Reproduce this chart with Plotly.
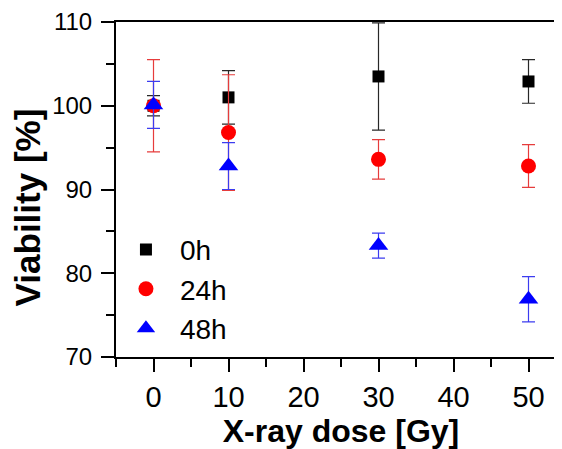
import plotly.graph_objects as go

dose = [0, 10, 30, 50]

v0h = [100.0, 101.0, 103.5, 102.9]
e0h = [1.2, 3.2, 6.4, 2.6]

v24h = [100.0, 96.8, 93.6, 92.8]
e24h = [5.5, 6.9, 2.35, 2.55]

v48h = [100.1, 92.8, 83.3, 76.9]
e48h = [2.8, 2.8, 1.5, 2.7]

series = [
    ("0h", v0h, e0h, "black", "rgb(40,40,40)", "square", 12),
    ("24h", v24h, e24h, "red", "rgb(230,60,60)", "circle", 15),
    ("48h", v48h, e48h, "blue", "rgb(60,60,240)", "triangle-up", 17),
]

FONT = "Arial, Liberation Sans, Helvetica, sans-serif"

fig = go.Figure()
for name, vals, errs, col, ecol, sym, sz in series:
    fig.add_trace(go.Scatter(
        x=dose, y=vals, mode="markers", name=name,
        marker=dict(symbol=sym, size=sz, color=col, line=dict(width=0)),
        error_y=dict(type="data", array=errs, visible=True, color=ecol,
                     thickness=1.2, width=6.5),
        cliponaxis=True,
    ))

axis_common = dict(
    showline=True, linecolor="black", linewidth=2, mirror=True,
    ticks="outside", tickcolor="black", tickwidth=2, ticklen=13,
    showgrid=False, zeroline=False, automargin=False,
    minor=dict(ticks="outside", ticklen=8, tickwidth=2, tickcolor="black"),
)

fig.update_xaxes(
    range=[-5, 55], tickvals=[0, 10, 20, 30, 40, 50],
    minor_dtick=5, minor_tick0=-5,
    tickfont=dict(family=FONT, size=29, color="black"),
    title=dict(text="<b>X-ray dose [Gy]</b>", font=dict(family=FONT, size=32, color="black"), standoff=8),
    **axis_common,
)
fig.update_yaxes(
    range=[70, 110], tickvals=[70, 80, 90, 100, 110],
    minor_dtick=5, minor_tick0=70,
    tickfont=dict(family=FONT, size=24, color="black"),
    ticklabelstandoff=4,
    **axis_common,
)

fig.add_annotation(
    text="<b>Viability [%]</b>", textangle=-90,
    xref="paper", yref="paper", x=-0.196, y=0.446,
    xanchor="center", yanchor="middle", showarrow=False,
    font=dict(family=FONT, size=35, color="black"),
)

fig.update_layout(
    width=562, height=449,
    margin=dict(l=108, r=4, t=14, b=100),
    paper_bgcolor="white", plot_bgcolor="white",
    showlegend=True,
    legend=dict(
        x=-0.009, y=0.395, xanchor="left", yanchor="top",
        font=dict(family=FONT, size=28, color="black"),
        bgcolor="rgba(0,0,0,0)", borderwidth=0,
        itemwidth=58,
    ),
)

fig.write_html("out.html")
